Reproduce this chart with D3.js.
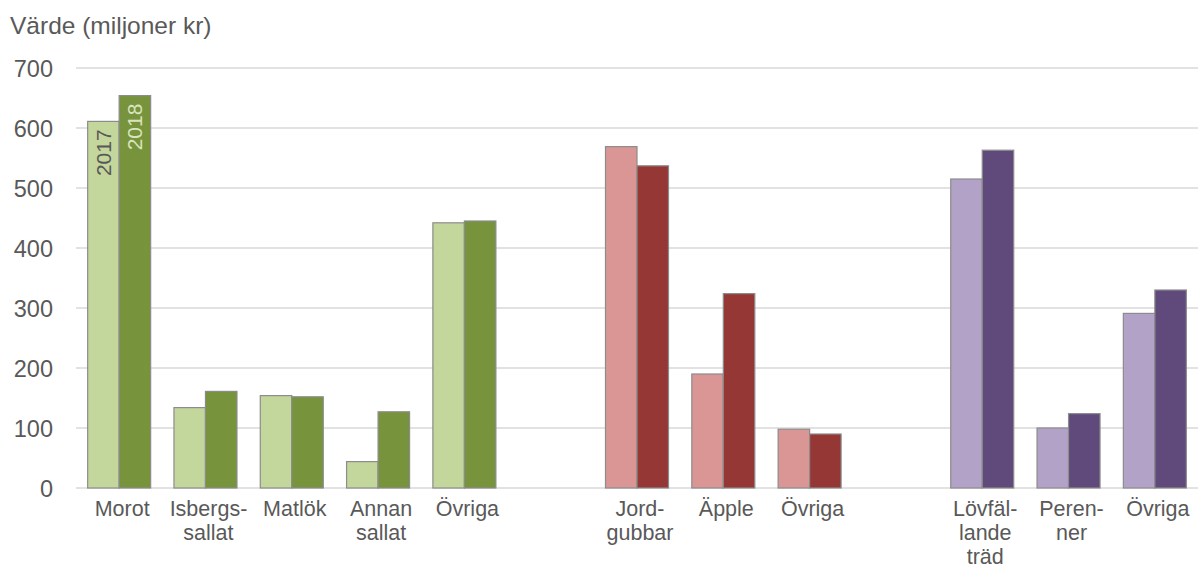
<!DOCTYPE html>
<html>
<head>
<meta charset="utf-8">
<script src="https://cdn.jsdelivr.net/npm/d3@7"></script>
<style>
  body { margin: 0; background: #fff; }
  svg text { font-family: "Liberation Sans", Arial, sans-serif; fill: #595959; }
</style>
</head>
<body>
<svg id="chart" width="1198" height="570"></svg>
<script>
// Kategorier (tomma platser mellan grupperna)
var kategorier = ["Morot", "Isbergs-|sallat", "Matlök", "Annan|sallat", "Övriga", "",
                  "Jord-|gubbar", "Äpple", "Övriga ", " ",
                  "Lövfäl-|lande|träd", "Peren-|ner", "Övriga  "];
var grupp = [0, 0, 0, 0, 0, -1, 1, 1, 1, -1, 2, 2, 2];
var ar = ["2017", "2018"];
var varden2017 = [611, 134, 154, 44, 442, null, 569, 190, 98, null, 515, 100, 291];
var varden2018 = [654, 161, 152, 127, 445, null, 537, 324, 90, null, 563, 124, 330];
var yTicks = [0, 100, 200, 300, 400, 500, 600, 700];
var farger = [["#c3d69b", "#77933c"], ["#d99694", "#953735"], ["#b3a2c7", "#604a7b"]];

var svg = d3.select("#chart");
var mLeft = 76, mRight = 1198, mTop = 68, mBottom = 488;

var x = d3.scaleBand().domain(d3.range(kategorier.length)).range([mLeft, mRight]).paddingInner(0).paddingOuter(0);
var xInner = d3.scaleBand().domain(ar).range([0, x.bandwidth()]).paddingOuter(0.37).paddingInner(0);
var y = d3.scaleLinear().domain([0, 700]).range([mBottom, mTop]);

// Rutnät
svg.append("g").selectAll("line")
    .data(yTicks)
    .enter()
    .append("line")
    .attr("x1", mLeft).attr("x2", mRight)
    .attr("y1", function(d) { return y(d); })
    .attr("y2", function(d) { return y(d); })
    .attr("stroke", "#d9d9d9")
    .attr("stroke-width", 1.5);

// Y-axel
var yAxis = d3.axisLeft(y).tickValues(yTicks).tickSize(0).tickPadding(0);
var gy = svg.append("g").attr("transform", "translate(53,0)").call(yAxis);
gy.select(".domain").remove();
gy.selectAll("text").style("font-size", "23.5px").style("font-family", "'Liberation Sans', Arial, sans-serif")
    .attr("dy", "0.36em").style("fill", "#595959");

// Titel
svg.append("text").attr("x", 10).attr("y", 34).style("font-size", "24.5px").text("Värde (miljoner kr)");

// Staplar
var rader = [];
kategorier.forEach(function(k, i) {
    if (grupp[i] < 0) return;
    rader.push({ i: i, ar: "2017", v: varden2017[i], g: grupp[i] });
    rader.push({ i: i, ar: "2018", v: varden2018[i], g: grupp[i] });
});

svg.append("g").selectAll("rect")
    .data(rader)
    .enter()
    .append("rect")
    .attr("x", function(d) { return x(d.i) + xInner(d.ar); })
    .attr("width", xInner.bandwidth())
    .attr("y", function(d) { return y(d.v); })
    .attr("height", function(d) { return y(0) - y(d.v); })
    .attr("fill", function(d) { return farger[d.g][d.ar == "2017" ? 0 : 1]; })
    .attr("stroke", "#8c8c8c")
    .attr("stroke-width", 1.2);

// Årtal inne i första staplarna
svg.append("g").selectAll("text")
    .data(rader.filter(function(d) { return d.i == 0; }))
    .enter()
    .append("text")
    .attr("transform", function(d) {
        var cx = x(d.i) + xInner(d.ar) + xInner.bandwidth() / 2;
        return "translate(" + (cx + 7.5) + "," + (y(d.v) + 8) + ") rotate(-90)";
    })
    .attr("text-anchor", "end")
    .style("font-size", "21px")
    .style("fill", function(d) { return d.ar == "2017" ? "#595959" : "#d7e4bd"; })
    .text(function(d) { return d.ar; });

// X-etiketter
var xl = svg.append("g").selectAll("text")
    .data(kategorier.map(function(k, i) { return { k: k, i: i }; }).filter(function(d) { return grupp[d.i] >= 0; }))
    .enter()
    .append("text")
    .attr("text-anchor", "middle")
    .style("font-size", "21.5px")
    .attr("x", function(d) { return x(d.i) + x.bandwidth() / 2 + 3; })
    .attr("y", 516);

xl.selectAll("tspan")
    .data(function(d) { return d.k.trim().split("|").map(function(t) { return { t: t, cx: x(d.i) + x.bandwidth() / 2 + 3 }; }); })
    .enter()
    .append("tspan")
    .attr("x", function(d) { return d.cx; })
    .attr("dy", function(d, j) { return j == 0 ? 0 : 24; })
    .text(function(d) { return d.t; });
</script>
</body>
</html>
